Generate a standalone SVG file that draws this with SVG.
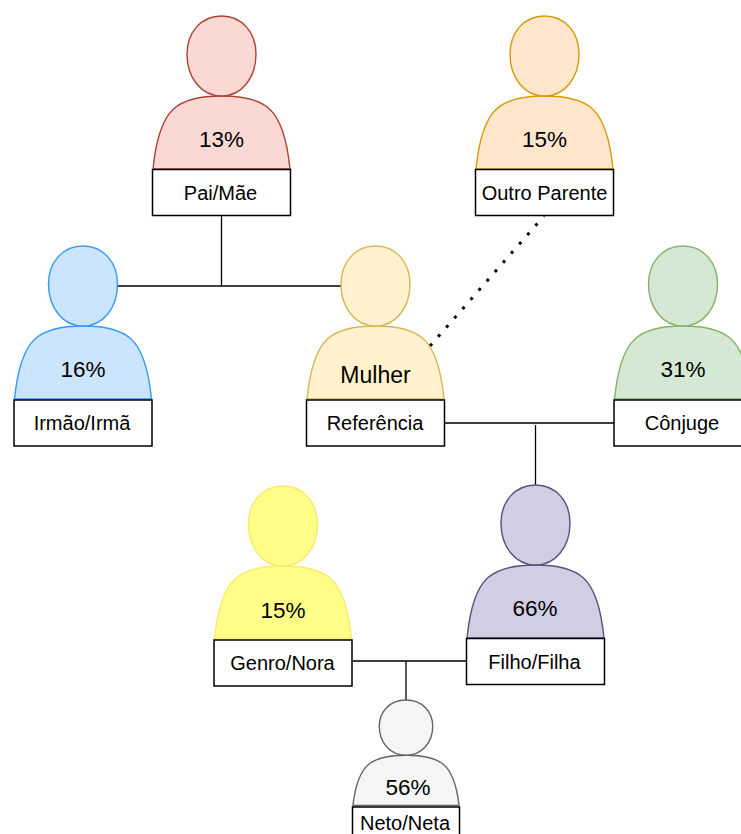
<svg xmlns="http://www.w3.org/2000/svg" width="741" height="834" viewBox="0 0 741 834">
<style>
text{font-family:"Liberation Sans",Arial,sans-serif;fill:#000;text-anchor:middle}
.l{font-size:20px}.p{font-size:22.5px}
.b{fill:#fff;stroke:#000;stroke-width:1.5}
.c{fill:none;stroke:#000;stroke-width:1.3}
.s{stroke-width:1.4}
.n{vector-effect:non-scaling-stroke}
</style>
<defs>
<path id="h" class="n" d="M0 0C21 0 34.5 17 34.5 38C34.5 62 20 80 0 80C-20 80-34.5 62-34.5 38C-34.5 17-21 0 0 0Z"/>
<path id="t" class="n" d="M-68.500 153C-66 128-60 104-48 93C-36 82-18 80 0 80C18 80 36 82 48 93C60 104 66 128 68.500 153Z"/>
</defs>
<rect width="741" height="834" fill="#fff"/>
<g id="connectors">
<path class="c" d="M221.500 215.500V286M118 286H341M445 423H614M535.500 425V485M353 661H466M406 661V700"/>
<path d="M430 346L544 216" fill="none" stroke="#000" stroke-width="3" stroke-dasharray="3 9.300"/>
</g>
<g id="pai" class="s" fill="#fad9d5" stroke="#ae4132"><use href="#t" x="221.500" y="16"/><use href="#h" x="221.500" y="16"/>
<rect class="b" x="152.500" y="169.500" width="138" height="46"/><text class="p" x="221.500" y="147" stroke="none">13%</text><text class="l" x="220.500" y="200" stroke="none">Pai/Mãe</text></g>
<g id="outro" class="s" fill="#ffe6cc" stroke="#d79b00"><use href="#t" x="544.500" y="16"/><use href="#h" x="544.500" y="16"/>
<rect class="b" x="475.500" y="169.500" width="138" height="46"/><text class="p" x="544.500" y="147" stroke="none">15%</text><text class="l" x="544.500" y="200" stroke="none">Outro Parente</text></g>
<g id="irmao" class="s" fill="#cce5ff" stroke="#3399ff"><use href="#t" x="83" y="246"/><use href="#h" x="83" y="246"/>
<rect class="b" x="14" y="400" width="138" height="46"/><text class="p" x="83" y="377" stroke="none">16%</text><text class="l" x="82" y="430" stroke="none">Irmão/Irmã</text></g>
<g id="referencia" class="s" fill="#fff2cc" stroke="#d6b656"><use href="#t" x="375.500" y="246"/><use href="#h" x="375.500" y="246"/>
<rect class="b" x="306.500" y="400" width="138" height="46"/><text x="375.500" y="383" font-size="23" stroke="none">Mulher</text><text class="l" x="375" y="430" stroke="none">Referência</text></g>
<g id="conjuge" class="s" fill="#d5e8d4" stroke="#82b366"><use href="#t" x="683" y="246"/><use href="#h" x="683" y="246"/>
<rect class="b" x="614" y="400" width="138" height="46"/><text class="p" x="683" y="377" stroke="none">31%</text><text class="l" x="682" y="430" stroke="none">Cônjuge</text></g>
<g id="genro" class="s" fill="#ffff88" stroke="#ffe866"><use href="#t" x="283" y="486"/><use href="#h" x="283" y="486"/>
<rect class="b" x="214" y="640" width="138" height="46"/><text class="p" x="283" y="618" stroke="none">15%</text><text class="l" x="282.500" y="670" stroke="none">Genro/Nora</text></g>
<g id="filho" class="s" fill="#d0cee2" stroke="#56517e"><use href="#t" x="535.500" y="485"/><use href="#h" x="535.500" y="485"/>
<rect class="b" x="466.500" y="638.500" width="138" height="46"/><text class="p" x="535" y="616" stroke="none">66%</text><text class="l" x="534.500" y="669" stroke="none">Filho/Filha</text></g>
<g id="neto" class="s" fill="#f5f5f5" stroke="#666"><g transform="translate(406 700) scale(.775 .69)"><use href="#t"/><use href="#h"/></g>
<rect class="b" x="352.500" y="807" width="107" height="40"/><text class="p" x="408" y="795" stroke="none">56%</text><text class="l" x="405" y="830" stroke="none">Neto/Neta</text></g>
</svg>
